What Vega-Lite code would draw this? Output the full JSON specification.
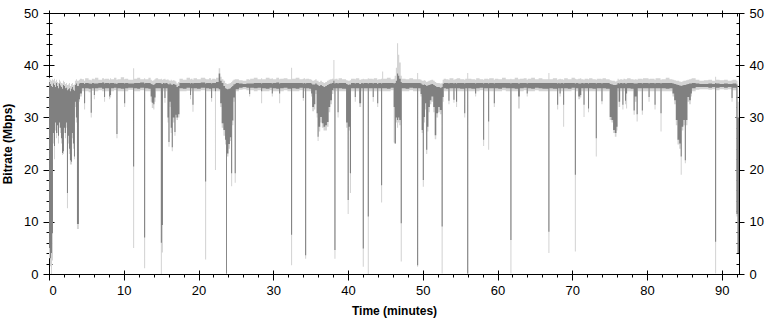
{
  "$schema": "https://vega.github.io/schema/vega-lite/v6.json",
  "width": 690,
  "height": 261,
  "autosize": "none",
  "padding": {"left": 49, "top": 13, "right": 31, "bottom": 46},
  "background": "white",
  "config": {
    "view": {"stroke": "#000000", "strokeWidth": 1},
    "axis": {"labelFont": "Liberation Sans", "labelFontSize": 13, "labelColor": "#000000", "tickColor": "#000000", "titleFont": "Liberation Sans", "titleFontSize": 12, "titleFontWeight": "bold", "titleColor": "#000000", "grid": false, "domain": false}
  },
  "data": {"values": [
    {"t":0.00,"dlo":5.0,"dhi":36.8,"llo":3.0,"lhi":37.6},
    {"t":0.13,"dlo":3.0,"dhi":36.4,"llo":1.5,"lhi":37.2},
    {"t":0.27,"dlo":4.0,"dhi":36.0,"llo":0.0,"lhi":37.0},
    {"t":0.40,"dlo":7.8,"dhi":35.8,"llo":2.6,"lhi":37.3},
    {"t":0.53,"dlo":27.0,"dhi":36.5,"llo":25.0,"lhi":37.1},
    {"t":0.67,"dlo":24.5,"dhi":36.2,"llo":22.0,"lhi":37.4},
    {"t":0.80,"dlo":29.0,"dhi":35.8,"llo":27.5,"lhi":36.9},
    {"t":0.94,"dlo":27.0,"dhi":36.6,"llo":26.0,"lhi":37.2},
    {"t":1.07,"dlo":28.5,"dhi":36.0,"llo":27.0,"lhi":36.8},
    {"t":1.20,"dlo":26.5,"dhi":35.6,"llo":25.0,"lhi":36.6},
    {"t":1.34,"dlo":29.0,"dhi":36.5,"llo":28.0,"lhi":37.2},
    {"t":1.47,"dlo":28.0,"dhi":36.1,"llo":27.0,"lhi":36.9},
    {"t":1.60,"dlo":26.0,"dhi":35.8,"llo":25.0,"lhi":36.6},
    {"t":1.74,"dlo":23.2,"dhi":35.5,"llo":22.8,"lhi":36.5},
    {"t":1.87,"dlo":23.5,"dhi":36.2,"llo":23.0,"lhi":37.0},
    {"t":2.00,"dlo":28.0,"dhi":36.0,"llo":27.0,"lhi":36.8},
    {"t":2.14,"dlo":27.0,"dhi":35.6,"llo":26.0,"lhi":36.4},
    {"t":2.27,"dlo":29.0,"dhi":35.7,"llo":28.0,"lhi":36.6},
    {"t":2.40,"dlo":15.5,"dhi":35.2,"llo":12.6,"lhi":36.2},
    {"t":2.54,"dlo":26.5,"dhi":35.4,"llo":25.0,"lhi":36.3},
    {"t":2.67,"dlo":24.0,"dhi":35.6,"llo":23.0,"lhi":36.6},
    {"t":2.80,"dlo":21.8,"dhi":35.0,"llo":21.0,"lhi":36.0},
    {"t":2.94,"dlo":21.5,"dhi":35.5,"llo":21.0,"lhi":36.4},
    {"t":3.07,"dlo":27.0,"dhi":35.8,"llo":26.0,"lhi":36.6},
    {"t":3.20,"dlo":25.0,"dhi":35.3,"llo":24.0,"lhi":36.2},
    {"t":3.34,"dlo":22.5,"dhi":35.1,"llo":22.0,"lhi":36.3},
    {"t":3.47,"dlo":33.0,"dhi":36.2,"llo":32.0,"lhi":37.0},
    {"t":3.60,"dlo":30.0,"dhi":36.5,"llo":29.0,"lhi":37.3},
    {"t":3.74,"dlo":9.6,"dhi":36.0,"llo":8.6,"lhi":37.0},
    {"t":4.00,"dlo":33.5,"dhi":36.5,"llo":33.0,"lhi":37.2},
    {"t":4.14,"dlo":34.6,"dhi":36.6,"llo":34.0,"lhi":37.4},
    {"t":4.40,"dlo":35.6,"dhi":36.6,"llo":35.0,"lhi":37.3},
    {"t":4.69,"dlo":32.7,"dhi":36.4,"llo":31.5,"lhi":37.0},
    {"t":4.83,"dlo":35.6,"dhi":36.6,"llo":35.0,"lhi":37.5},
    {"t":5.30,"dlo":35.5,"dhi":36.5,"llo":34.8,"lhi":37.2},
    {"t":5.58,"dlo":30.9,"dhi":36.4,"llo":30.0,"lhi":37.1},
    {"t":5.72,"dlo":35.6,"dhi":36.6,"llo":35.1,"lhi":37.4},
    {"t":6.00,"dlo":34.3,"dhi":36.5,"llo":33.5,"lhi":37.3},
    {"t":6.14,"dlo":35.6,"dhi":36.5,"llo":35.0,"lhi":37.6},
    {"t":6.60,"dlo":35.7,"dhi":36.6,"llo":35.2,"lhi":37.2},
    {"t":7.10,"dlo":35.5,"dhi":36.7,"llo":35.0,"lhi":37.5},
    {"t":7.37,"dlo":33.9,"dhi":36.5,"llo":33.0,"lhi":37.3},
    {"t":7.50,"dlo":35.6,"dhi":36.6,"llo":35.0,"lhi":37.4},
    {"t":8.04,"dlo":34.0,"dhi":36.5,"llo":33.5,"lhi":37.2},
    {"t":8.17,"dlo":34.3,"dhi":36.6,"llo":33.8,"lhi":37.5},
    {"t":8.30,"dlo":35.6,"dhi":36.6,"llo":35.0,"lhi":37.3},
    {"t":8.70,"dlo":35.7,"dhi":36.5,"llo":35.2,"lhi":37.6},
    {"t":9.02,"dlo":26.8,"dhi":36.4,"llo":26.0,"lhi":37.2},
    {"t":9.16,"dlo":35.6,"dhi":36.6,"llo":35.0,"lhi":37.3},
    {"t":9.60,"dlo":35.5,"dhi":36.6,"llo":35.0,"lhi":37.7},
    {"t":10.05,"dlo":32.7,"dhi":36.5,"llo":32.0,"lhi":37.3},
    {"t":10.19,"dlo":35.6,"dhi":36.6,"llo":35.0,"lhi":37.4},
    {"t":10.60,"dlo":35.7,"dhi":36.5,"llo":35.3,"lhi":37.2},
    {"t":11.25,"dlo":20.6,"dhi":36.5,"llo":5.0,"lhi":39.4},
    {"t":11.39,"dlo":35.6,"dhi":36.6,"llo":35.0,"lhi":37.4},
    {"t":11.80,"dlo":35.5,"dhi":36.6,"llo":35.0,"lhi":37.6},
    {"t":12.20,"dlo":35.7,"dhi":36.7,"llo":35.2,"lhi":37.3},
    {"t":12.72,"dlo":7.0,"dhi":36.5,"llo":1.1,"lhi":37.5},
    {"t":12.86,"dlo":35.6,"dhi":36.6,"llo":35.0,"lhi":37.3},
    {"t":13.30,"dlo":35.5,"dhi":36.6,"llo":35.0,"lhi":37.6},
    {"t":13.60,"dlo":34.0,"dhi":36.4,"llo":33.0,"lhi":37.2},
    {"t":13.75,"dlo":32.8,"dhi":36.3,"llo":31.8,"lhi":37.0},
    {"t":13.95,"dlo":32.5,"dhi":36.2,"llo":31.5,"lhi":37.1},
    {"t":14.10,"dlo":33.8,"dhi":36.4,"llo":33.0,"lhi":37.3},
    {"t":14.25,"dlo":35.6,"dhi":36.6,"llo":35.0,"lhi":37.5},
    {"t":14.60,"dlo":35.6,"dhi":36.6,"llo":35.0,"lhi":37.3},
    {"t":14.96,"dlo":6.0,"dhi":36.5,"llo":0.0,"lhi":37.4},
    {"t":15.10,"dlo":9.4,"dhi":36.4,"llo":4.1,"lhi":37.2},
    {"t":15.24,"dlo":35.6,"dhi":36.6,"llo":35.0,"lhi":37.3},
    {"t":15.44,"dlo":33.7,"dhi":36.5,"llo":32.8,"lhi":37.4},
    {"t":15.58,"dlo":35.6,"dhi":36.6,"llo":35.0,"lhi":37.2},
    {"t":15.85,"dlo":30.0,"dhi":36.4,"llo":29.0,"lhi":37.3},
    {"t":15.98,"dlo":25.3,"dhi":36.3,"llo":24.4,"lhi":37.1},
    {"t":16.12,"dlo":33.0,"dhi":36.5,"llo":32.0,"lhi":37.0},
    {"t":16.28,"dlo":28.0,"dhi":36.3,"llo":27.0,"lhi":37.2},
    {"t":16.42,"dlo":24.3,"dhi":36.2,"llo":23.5,"lhi":37.0},
    {"t":16.56,"dlo":30.0,"dhi":36.4,"llo":29.0,"lhi":37.1},
    {"t":16.78,"dlo":27.2,"dhi":36.3,"llo":26.5,"lhi":37.0},
    {"t":16.92,"dlo":30.5,"dhi":36.2,"llo":30.0,"lhi":36.9},
    {"t":17.05,"dlo":30.0,"dhi":35.8,"llo":29.5,"lhi":36.5},
    {"t":17.25,"dlo":30.6,"dhi":36.0,"llo":30.0,"lhi":36.8},
    {"t":17.45,"dlo":35.6,"dhi":36.6,"llo":35.0,"lhi":37.4},
    {"t":17.90,"dlo":35.5,"dhi":36.6,"llo":35.0,"lhi":37.2},
    {"t":18.40,"dlo":35.7,"dhi":36.6,"llo":35.1,"lhi":37.6},
    {"t":18.87,"dlo":34.3,"dhi":36.5,"llo":33.5,"lhi":37.3},
    {"t":19.00,"dlo":35.6,"dhi":36.6,"llo":35.0,"lhi":37.4},
    {"t":19.19,"dlo":32.4,"dhi":36.5,"llo":31.1,"lhi":37.2},
    {"t":19.33,"dlo":35.6,"dhi":36.6,"llo":35.0,"lhi":37.5},
    {"t":19.80,"dlo":35.5,"dhi":36.6,"llo":35.0,"lhi":37.3},
    {"t":20.30,"dlo":35.7,"dhi":36.7,"llo":35.2,"lhi":37.6},
    {"t":20.88,"dlo":17.7,"dhi":36.5,"llo":2.8,"lhi":37.4},
    {"t":21.02,"dlo":35.6,"dhi":36.6,"llo":35.0,"lhi":37.3},
    {"t":21.40,"dlo":35.5,"dhi":36.6,"llo":35.0,"lhi":37.5},
    {"t":21.68,"dlo":33.7,"dhi":36.5,"llo":33.0,"lhi":37.2},
    {"t":21.82,"dlo":35.6,"dhi":36.6,"llo":35.0,"lhi":37.4},
    {"t":22.20,"dlo":35.0,"dhi":36.6,"llo":19.9,"lhi":37.3},
    {"t":22.34,"dlo":35.6,"dhi":36.8,"llo":35.0,"lhi":37.6},
    {"t":22.70,"dlo":35.4,"dhi":38.4,"llo":35.0,"lhi":39.4},
    {"t":22.90,"dlo":32.7,"dhi":37.0,"llo":32.0,"lhi":37.8},
    {"t":23.10,"dlo":28.9,"dhi":36.6,"llo":28.0,"lhi":37.3},
    {"t":23.33,"dlo":27.6,"dhi":36.0,"llo":26.5,"lhi":37.0},
    {"t":23.55,"dlo":25.7,"dhi":35.6,"llo":24.8,"lhi":36.6},
    {"t":23.68,"dlo":0.1,"dhi":35.5,"llo":0.0,"lhi":36.5},
    {"t":23.80,"dlo":23.1,"dhi":35.4,"llo":22.5,"lhi":36.4},
    {"t":24.00,"dlo":24.9,"dhi":35.5,"llo":24.0,"lhi":36.5},
    {"t":24.20,"dlo":26.2,"dhi":35.6,"llo":25.5,"lhi":36.6},
    {"t":24.36,"dlo":19.3,"dhi":35.8,"llo":16.8,"lhi":36.8},
    {"t":24.50,"dlo":29.4,"dhi":36.0,"llo":28.5,"lhi":37.0},
    {"t":24.66,"dlo":33.8,"dhi":36.3,"llo":33.0,"lhi":37.2},
    {"t":24.84,"dlo":19.3,"dhi":36.4,"llo":17.5,"lhi":37.3},
    {"t":24.98,"dlo":35.4,"dhi":36.6,"llo":35.0,"lhi":37.3},
    {"t":25.40,"dlo":35.7,"dhi":36.5,"llo":35.3,"lhi":37.1},
    {"t":25.90,"dlo":35.8,"dhi":36.4,"llo":35.4,"lhi":37.0},
    {"t":26.40,"dlo":35.7,"dhi":36.5,"llo":35.2,"lhi":37.3},
    {"t":26.77,"dlo":34.5,"dhi":36.5,"llo":34.0,"lhi":37.2},
    {"t":26.91,"dlo":35.7,"dhi":36.5,"llo":35.2,"lhi":37.4},
    {"t":27.40,"dlo":35.6,"dhi":36.6,"llo":35.0,"lhi":37.6},
    {"t":27.90,"dlo":35.7,"dhi":36.6,"llo":35.2,"lhi":37.3},
    {"t":28.37,"dlo":35.0,"dhi":36.5,"llo":32.7,"lhi":37.5},
    {"t":28.51,"dlo":35.6,"dhi":36.6,"llo":35.0,"lhi":37.3},
    {"t":29.00,"dlo":35.5,"dhi":36.6,"llo":35.0,"lhi":37.6},
    {"t":29.50,"dlo":35.7,"dhi":36.6,"llo":35.2,"lhi":37.4},
    {"t":29.80,"dlo":34.6,"dhi":36.5,"llo":34.0,"lhi":37.5},
    {"t":29.94,"dlo":35.6,"dhi":36.6,"llo":35.0,"lhi":37.3},
    {"t":30.40,"dlo":35.5,"dhi":36.7,"llo":35.0,"lhi":37.6},
    {"t":30.78,"dlo":34.6,"dhi":36.5,"llo":32.7,"lhi":37.3},
    {"t":30.92,"dlo":35.6,"dhi":36.6,"llo":35.0,"lhi":37.4},
    {"t":31.40,"dlo":35.7,"dhi":36.6,"llo":35.2,"lhi":37.5},
    {"t":31.90,"dlo":35.5,"dhi":36.6,"llo":35.0,"lhi":37.3},
    {"t":32.38,"dlo":7.5,"dhi":36.6,"llo":1.7,"lhi":39.5},
    {"t":32.52,"dlo":35.6,"dhi":36.6,"llo":35.0,"lhi":37.4},
    {"t":33.00,"dlo":35.5,"dhi":36.6,"llo":35.0,"lhi":37.6},
    {"t":33.50,"dlo":35.7,"dhi":36.6,"llo":35.2,"lhi":37.3},
    {"t":33.95,"dlo":33.7,"dhi":36.5,"llo":33.2,"lhi":37.4},
    {"t":34.09,"dlo":35.6,"dhi":36.6,"llo":35.0,"lhi":37.5},
    {"t":34.26,"dlo":3.6,"dhi":36.5,"llo":2.9,"lhi":37.3},
    {"t":34.40,"dlo":35.6,"dhi":36.6,"llo":35.0,"lhi":37.4},
    {"t":34.80,"dlo":35.5,"dhi":36.6,"llo":35.0,"lhi":37.3},
    {"t":35.06,"dlo":34.6,"dhi":36.5,"llo":34.0,"lhi":37.2},
    {"t":35.20,"dlo":32.0,"dhi":36.3,"llo":31.2,"lhi":37.0},
    {"t":35.45,"dlo":32.5,"dhi":36.3,"llo":31.5,"lhi":37.1},
    {"t":35.62,"dlo":35.2,"dhi":36.5,"llo":34.5,"lhi":37.3},
    {"t":35.80,"dlo":30.8,"dhi":36.3,"llo":30.0,"lhi":37.0},
    {"t":35.93,"dlo":26.3,"dhi":36.2,"llo":25.5,"lhi":37.0},
    {"t":36.06,"dlo":28.2,"dhi":36.0,"llo":27.3,"lhi":36.8},
    {"t":36.28,"dlo":30.1,"dhi":36.2,"llo":29.0,"lhi":37.0},
    {"t":36.50,"dlo":28.9,"dhi":36.0,"llo":28.0,"lhi":36.8},
    {"t":36.72,"dlo":28.2,"dhi":35.8,"llo":27.5,"lhi":36.6},
    {"t":36.95,"dlo":28.5,"dhi":36.0,"llo":27.5,"lhi":36.8},
    {"t":37.18,"dlo":29.1,"dhi":36.2,"llo":28.2,"lhi":37.0},
    {"t":37.40,"dlo":32.0,"dhi":36.4,"llo":31.0,"lhi":37.2},
    {"t":37.62,"dlo":33.3,"dhi":36.5,"llo":32.5,"lhi":37.3},
    {"t":37.85,"dlo":35.2,"dhi":36.6,"llo":34.5,"lhi":37.4},
    {"t":38.04,"dlo":35.6,"dhi":37.0,"llo":35.0,"lhi":41.0},
    {"t":38.18,"dlo":4.6,"dhi":36.5,"llo":2.9,"lhi":37.3},
    {"t":38.32,"dlo":35.6,"dhi":36.6,"llo":35.0,"lhi":37.4},
    {"t":38.60,"dlo":31.0,"dhi":36.5,"llo":30.0,"lhi":37.2},
    {"t":38.74,"dlo":35.6,"dhi":36.6,"llo":35.0,"lhi":37.5},
    {"t":39.20,"dlo":35.5,"dhi":36.6,"llo":35.0,"lhi":37.3},
    {"t":39.74,"dlo":29.0,"dhi":36.4,"llo":28.0,"lhi":37.1},
    {"t":39.95,"dlo":14.2,"dhi":36.2,"llo":11.5,"lhi":37.0},
    {"t":40.09,"dlo":28.2,"dhi":36.3,"llo":27.5,"lhi":37.0},
    {"t":40.25,"dlo":19.3,"dhi":36.3,"llo":15.5,"lhi":37.1},
    {"t":40.40,"dlo":35.6,"dhi":36.6,"llo":35.0,"lhi":37.4},
    {"t":40.90,"dlo":33.9,"dhi":36.5,"llo":33.0,"lhi":37.3},
    {"t":41.04,"dlo":35.6,"dhi":36.6,"llo":35.0,"lhi":37.5},
    {"t":41.50,"dlo":32.7,"dhi":36.4,"llo":32.0,"lhi":37.2},
    {"t":41.75,"dlo":35.6,"dhi":36.6,"llo":35.0,"lhi":37.3},
    {"t":41.97,"dlo":4.9,"dhi":36.5,"llo":1.4,"lhi":37.4},
    {"t":42.11,"dlo":35.6,"dhi":36.6,"llo":35.0,"lhi":37.3},
    {"t":42.64,"dlo":11.0,"dhi":36.5,"llo":0.0,"lhi":37.5},
    {"t":42.78,"dlo":35.6,"dhi":36.6,"llo":35.0,"lhi":37.4},
    {"t":43.30,"dlo":33.9,"dhi":36.5,"llo":33.0,"lhi":37.3},
    {"t":43.44,"dlo":35.6,"dhi":36.6,"llo":35.0,"lhi":37.5},
    {"t":43.90,"dlo":32.7,"dhi":36.4,"llo":32.0,"lhi":37.2},
    {"t":44.04,"dlo":35.6,"dhi":36.6,"llo":35.0,"lhi":37.3},
    {"t":44.42,"dlo":17.0,"dhi":36.5,"llo":13.7,"lhi":37.4},
    {"t":44.56,"dlo":35.6,"dhi":36.6,"llo":35.0,"lhi":38.8},
    {"t":44.70,"dlo":35.6,"dhi":36.6,"llo":35.0,"lhi":37.4},
    {"t":45.20,"dlo":35.5,"dhi":36.6,"llo":35.0,"lhi":37.6},
    {"t":45.70,"dlo":35.7,"dhi":36.6,"llo":35.2,"lhi":37.3},
    {"t":46.10,"dlo":32.0,"dhi":36.5,"llo":25.2,"lhi":37.4},
    {"t":46.24,"dlo":25.0,"dhi":36.6,"llo":25.0,"lhi":38.0},
    {"t":46.40,"dlo":30.0,"dhi":37.0,"llo":29.0,"lhi":39.5},
    {"t":46.55,"dlo":29.5,"dhi":38.4,"llo":28.0,"lhi":44.2},
    {"t":46.70,"dlo":30.0,"dhi":38.0,"llo":29.0,"lhi":42.0},
    {"t":46.85,"dlo":29.5,"dhi":37.4,"llo":28.5,"lhi":40.5},
    {"t":47.05,"dlo":9.7,"dhi":36.8,"llo":2.4,"lhi":38.0},
    {"t":47.19,"dlo":35.6,"dhi":36.6,"llo":35.0,"lhi":37.4},
    {"t":47.70,"dlo":35.5,"dhi":36.6,"llo":35.0,"lhi":37.3},
    {"t":48.20,"dlo":35.7,"dhi":36.6,"llo":35.2,"lhi":37.5},
    {"t":48.70,"dlo":35.6,"dhi":36.6,"llo":35.0,"lhi":37.3},
    {"t":49.24,"dlo":1.7,"dhi":36.6,"llo":1.4,"lhi":38.5},
    {"t":49.38,"dlo":35.6,"dhi":36.6,"llo":35.0,"lhi":37.3},
    {"t":49.70,"dlo":34.5,"dhi":36.5,"llo":34.0,"lhi":37.2},
    {"t":49.85,"dlo":27.6,"dhi":36.3,"llo":27.0,"lhi":37.0},
    {"t":50.00,"dlo":18.0,"dhi":36.2,"llo":16.7,"lhi":37.0},
    {"t":50.14,"dlo":30.1,"dhi":36.3,"llo":29.0,"lhi":37.1},
    {"t":50.30,"dlo":32.7,"dhi":36.2,"llo":31.5,"lhi":37.0},
    {"t":50.45,"dlo":23.8,"dhi":36.0,"llo":23.0,"lhi":36.8},
    {"t":50.60,"dlo":28.2,"dhi":36.1,"llo":27.3,"lhi":36.9},
    {"t":50.75,"dlo":32.0,"dhi":36.2,"llo":31.0,"lhi":37.0},
    {"t":50.95,"dlo":33.3,"dhi":36.3,"llo":32.5,"lhi":37.1},
    {"t":51.15,"dlo":34.0,"dhi":36.4,"llo":33.0,"lhi":37.2},
    {"t":51.40,"dlo":32.0,"dhi":36.2,"llo":31.0,"lhi":37.0},
    {"t":51.60,"dlo":26.6,"dhi":36.0,"llo":25.8,"lhi":36.8},
    {"t":51.80,"dlo":30.8,"dhi":35.8,"llo":30.0,"lhi":36.6},
    {"t":52.05,"dlo":32.0,"dhi":35.8,"llo":31.0,"lhi":36.6},
    {"t":52.28,"dlo":31.4,"dhi":35.7,"llo":30.6,"lhi":36.5},
    {"t":52.52,"dlo":9.1,"dhi":35.8,"llo":0.1,"lhi":36.6},
    {"t":52.66,"dlo":33.9,"dhi":36.4,"llo":33.0,"lhi":37.2},
    {"t":52.80,"dlo":35.6,"dhi":36.6,"llo":35.0,"lhi":37.4},
    {"t":53.10,"dlo":35.5,"dhi":36.6,"llo":35.0,"lhi":37.3},
    {"t":53.43,"dlo":33.2,"dhi":36.5,"llo":32.5,"lhi":37.2},
    {"t":53.57,"dlo":35.6,"dhi":36.6,"llo":35.0,"lhi":37.5},
    {"t":54.10,"dlo":33.4,"dhi":36.5,"llo":32.8,"lhi":37.2},
    {"t":54.24,"dlo":35.6,"dhi":36.6,"llo":35.0,"lhi":37.3},
    {"t":54.45,"dlo":33.0,"dhi":36.5,"llo":32.0,"lhi":37.4},
    {"t":54.59,"dlo":35.6,"dhi":36.6,"llo":35.0,"lhi":37.5},
    {"t":55.00,"dlo":35.5,"dhi":36.6,"llo":35.0,"lhi":37.3},
    {"t":55.54,"dlo":30.8,"dhi":36.5,"llo":30.0,"lhi":37.2},
    {"t":55.68,"dlo":35.6,"dhi":36.6,"llo":35.0,"lhi":37.4},
    {"t":55.94,"dlo":0.1,"dhi":36.6,"llo":0.0,"lhi":38.5},
    {"t":56.08,"dlo":35.6,"dhi":36.6,"llo":35.0,"lhi":37.4},
    {"t":56.50,"dlo":35.5,"dhi":36.6,"llo":35.0,"lhi":37.3},
    {"t":57.00,"dlo":34.6,"dhi":36.5,"llo":34.0,"lhi":37.2},
    {"t":57.14,"dlo":35.6,"dhi":36.6,"llo":35.0,"lhi":37.5},
    {"t":57.60,"dlo":35.7,"dhi":36.6,"llo":35.2,"lhi":37.3},
    {"t":58.07,"dlo":25.7,"dhi":36.5,"llo":24.5,"lhi":37.2},
    {"t":58.21,"dlo":35.6,"dhi":36.6,"llo":35.0,"lhi":37.4},
    {"t":58.74,"dlo":29.2,"dhi":36.5,"llo":23.8,"lhi":37.3},
    {"t":58.88,"dlo":35.6,"dhi":36.6,"llo":35.0,"lhi":37.5},
    {"t":59.50,"dlo":32.7,"dhi":36.5,"llo":32.0,"lhi":37.2},
    {"t":59.64,"dlo":35.6,"dhi":36.6,"llo":35.0,"lhi":37.4},
    {"t":60.10,"dlo":35.5,"dhi":36.6,"llo":35.0,"lhi":37.3},
    {"t":60.60,"dlo":35.7,"dhi":36.6,"llo":35.2,"lhi":37.6},
    {"t":61.10,"dlo":35.6,"dhi":36.6,"llo":35.0,"lhi":37.3},
    {"t":61.72,"dlo":6.5,"dhi":36.5,"llo":0.1,"lhi":37.4},
    {"t":61.86,"dlo":35.6,"dhi":36.6,"llo":35.0,"lhi":37.3},
    {"t":62.30,"dlo":35.5,"dhi":36.6,"llo":35.0,"lhi":37.6},
    {"t":62.75,"dlo":34.0,"dhi":36.5,"llo":31.7,"lhi":37.3},
    {"t":62.98,"dlo":35.6,"dhi":36.6,"llo":35.0,"lhi":37.4},
    {"t":63.50,"dlo":35.7,"dhi":36.6,"llo":35.2,"lhi":37.5},
    {"t":63.90,"dlo":34.6,"dhi":36.5,"llo":34.0,"lhi":37.2},
    {"t":64.04,"dlo":35.6,"dhi":36.6,"llo":35.0,"lhi":37.4},
    {"t":64.50,"dlo":35.5,"dhi":36.6,"llo":35.0,"lhi":37.6},
    {"t":65.00,"dlo":35.7,"dhi":36.6,"llo":35.2,"lhi":37.3},
    {"t":65.50,"dlo":35.6,"dhi":36.6,"llo":35.0,"lhi":37.5},
    {"t":66.00,"dlo":35.5,"dhi":36.6,"llo":35.0,"lhi":37.3},
    {"t":66.80,"dlo":8.1,"dhi":36.6,"llo":4.0,"lhi":38.5},
    {"t":66.94,"dlo":35.6,"dhi":36.6,"llo":35.0,"lhi":37.3},
    {"t":67.40,"dlo":35.5,"dhi":36.6,"llo":35.0,"lhi":37.5},
    {"t":67.97,"dlo":32.4,"dhi":36.5,"llo":31.5,"lhi":37.2},
    {"t":68.11,"dlo":35.6,"dhi":36.6,"llo":35.0,"lhi":37.3},
    {"t":68.30,"dlo":34.6,"dhi":36.5,"llo":34.0,"lhi":37.4},
    {"t":68.44,"dlo":35.6,"dhi":36.6,"llo":35.0,"lhi":37.3},
    {"t":68.77,"dlo":32.4,"dhi":36.5,"llo":28.2,"lhi":37.2},
    {"t":68.91,"dlo":35.6,"dhi":36.6,"llo":35.0,"lhi":37.5},
    {"t":69.40,"dlo":35.5,"dhi":36.6,"llo":35.0,"lhi":37.3},
    {"t":69.90,"dlo":35.7,"dhi":36.6,"llo":35.2,"lhi":37.6},
    {"t":70.34,"dlo":19.0,"dhi":36.5,"llo":4.3,"lhi":37.4},
    {"t":70.48,"dlo":35.6,"dhi":36.6,"llo":35.0,"lhi":37.3},
    {"t":70.80,"dlo":34.0,"dhi":36.5,"llo":33.5,"lhi":37.4},
    {"t":71.05,"dlo":34.3,"dhi":36.5,"llo":33.8,"lhi":37.5},
    {"t":71.20,"dlo":35.6,"dhi":36.6,"llo":35.0,"lhi":37.3},
    {"t":71.50,"dlo":32.4,"dhi":36.5,"llo":30.1,"lhi":37.2},
    {"t":71.64,"dlo":35.6,"dhi":36.6,"llo":35.0,"lhi":37.4},
    {"t":72.10,"dlo":31.7,"dhi":36.5,"llo":31.0,"lhi":37.3},
    {"t":72.24,"dlo":35.6,"dhi":36.6,"llo":35.0,"lhi":37.5},
    {"t":72.70,"dlo":35.5,"dhi":36.6,"llo":35.0,"lhi":37.3},
    {"t":73.14,"dlo":26.0,"dhi":36.5,"llo":22.5,"lhi":37.2},
    {"t":73.28,"dlo":35.6,"dhi":36.6,"llo":35.0,"lhi":37.4},
    {"t":73.90,"dlo":33.1,"dhi":36.5,"llo":32.5,"lhi":37.3},
    {"t":74.04,"dlo":35.6,"dhi":36.6,"llo":35.0,"lhi":37.5},
    {"t":74.50,"dlo":35.5,"dhi":36.6,"llo":35.0,"lhi":37.3},
    {"t":75.00,"dlo":30.1,"dhi":36.4,"llo":29.5,"lhi":37.1},
    {"t":75.24,"dlo":29.5,"dhi":36.3,"llo":29.0,"lhi":37.0},
    {"t":75.46,"dlo":27.6,"dhi":36.2,"llo":27.0,"lhi":37.0},
    {"t":75.69,"dlo":27.0,"dhi":36.2,"llo":26.3,"lhi":36.9},
    {"t":75.91,"dlo":28.2,"dhi":36.3,"llo":27.5,"lhi":37.0},
    {"t":76.05,"dlo":35.6,"dhi":36.6,"llo":35.0,"lhi":37.4},
    {"t":76.20,"dlo":33.0,"dhi":36.5,"llo":32.0,"lhi":37.2},
    {"t":76.40,"dlo":35.6,"dhi":36.6,"llo":35.0,"lhi":37.3},
    {"t":76.70,"dlo":32.4,"dhi":36.5,"llo":31.5,"lhi":37.2},
    {"t":76.84,"dlo":35.6,"dhi":36.6,"llo":35.0,"lhi":37.4},
    {"t":77.05,"dlo":33.2,"dhi":36.5,"llo":32.5,"lhi":37.3},
    {"t":77.19,"dlo":34.6,"dhi":36.5,"llo":31.7,"lhi":37.3},
    {"t":77.33,"dlo":35.6,"dhi":36.6,"llo":35.0,"lhi":37.5},
    {"t":77.80,"dlo":35.5,"dhi":36.6,"llo":35.0,"lhi":37.3},
    {"t":78.20,"dlo":31.3,"dhi":36.5,"llo":30.5,"lhi":37.2},
    {"t":78.35,"dlo":34.0,"dhi":36.5,"llo":33.0,"lhi":37.3},
    {"t":78.60,"dlo":30.6,"dhi":36.5,"llo":29.2,"lhi":37.2},
    {"t":78.75,"dlo":35.6,"dhi":36.6,"llo":35.0,"lhi":37.4},
    {"t":79.30,"dlo":31.3,"dhi":36.5,"llo":30.5,"lhi":37.3},
    {"t":79.44,"dlo":35.6,"dhi":36.6,"llo":35.0,"lhi":37.5},
    {"t":80.20,"dlo":33.9,"dhi":36.5,"llo":33.0,"lhi":37.3},
    {"t":80.34,"dlo":35.6,"dhi":36.6,"llo":35.0,"lhi":37.4},
    {"t":81.00,"dlo":32.4,"dhi":36.5,"llo":31.5,"lhi":37.2},
    {"t":81.14,"dlo":35.6,"dhi":36.6,"llo":35.0,"lhi":37.5},
    {"t":81.80,"dlo":30.8,"dhi":36.5,"llo":27.3,"lhi":37.2},
    {"t":81.94,"dlo":35.6,"dhi":36.6,"llo":35.0,"lhi":37.3},
    {"t":82.50,"dlo":35.5,"dhi":36.6,"llo":35.0,"lhi":37.6},
    {"t":83.00,"dlo":35.6,"dhi":36.6,"llo":35.0,"lhi":37.3},
    {"t":83.40,"dlo":34.6,"dhi":36.5,"llo":34.0,"lhi":37.2},
    {"t":83.63,"dlo":33.3,"dhi":36.4,"llo":32.5,"lhi":37.1},
    {"t":83.85,"dlo":29.5,"dhi":36.3,"llo":28.5,"lhi":37.0},
    {"t":84.07,"dlo":25.7,"dhi":36.2,"llo":24.8,"lhi":37.0},
    {"t":84.30,"dlo":25.0,"dhi":36.1,"llo":24.0,"lhi":36.9},
    {"t":84.50,"dlo":22.5,"dhi":36.0,"llo":19.0,"lhi":36.8},
    {"t":84.64,"dlo":28.2,"dhi":36.1,"llo":27.5,"lhi":36.9},
    {"t":84.85,"dlo":29.5,"dhi":36.2,"llo":28.5,"lhi":37.0},
    {"t":85.05,"dlo":21.8,"dhi":36.2,"llo":21.2,"lhi":37.0},
    {"t":85.19,"dlo":29.5,"dhi":36.3,"llo":28.5,"lhi":37.1},
    {"t":85.40,"dlo":33.9,"dhi":36.4,"llo":33.0,"lhi":37.2},
    {"t":85.63,"dlo":33.3,"dhi":36.5,"llo":32.5,"lhi":37.3},
    {"t":85.85,"dlo":34.6,"dhi":36.5,"llo":34.0,"lhi":37.4},
    {"t":86.00,"dlo":35.6,"dhi":36.6,"llo":35.0,"lhi":37.5},
    {"t":86.50,"dlo":35.8,"dhi":36.5,"llo":35.3,"lhi":37.2},
    {"t":87.00,"dlo":35.8,"dhi":36.4,"llo":35.4,"lhi":37.0},
    {"t":87.60,"dlo":35.8,"dhi":36.4,"llo":35.4,"lhi":37.1},
    {"t":88.20,"dlo":35.7,"dhi":36.5,"llo":35.3,"lhi":37.2},
    {"t":88.70,"dlo":35.8,"dhi":36.4,"llo":35.4,"lhi":37.0},
    {"t":89.10,"dlo":6.2,"dhi":36.6,"llo":0.1,"lhi":37.8},
    {"t":89.24,"dlo":35.7,"dhi":36.5,"llo":35.2,"lhi":37.2},
    {"t":89.70,"dlo":35.8,"dhi":36.4,"llo":35.4,"lhi":37.1},
    {"t":90.30,"dlo":35.7,"dhi":36.5,"llo":35.3,"lhi":37.2},
    {"t":90.80,"dlo":35.8,"dhi":36.4,"llo":35.4,"lhi":37.0},
    {"t":91.30,"dlo":33.7,"dhi":36.4,"llo":33.0,"lhi":37.1},
    {"t":91.44,"dlo":35.7,"dhi":36.5,"llo":35.2,"lhi":37.2},
    {"t":91.95,"dlo":11.5,"dhi":36.3,"llo":11.0,"lhi":37.0},
    {"t":92.10,"dlo":4.0,"dhi":30.0,"llo":4.0,"lhi":33.0},
    {"t":92.30,"dlo":4.0,"dhi":12.0,"llo":4.0,"lhi":20.0}
  ]},
  "resolve": {"axis": {"x": "independent", "y": "independent"}},
  "layer": [
    {
      "mark": {"type": "area", "interpolate": "step-after", "color": "#d4d4d4"},
      "encoding": {
        "x": {"field": "t", "type": "quantitative", "scale": {"domain": [0, 92.3], "nice": false, "zero": false},
              "axis": {"orient": "bottom", "values": [0,10,20,30,40,50,60,70,80,90], "tickSize": 10, "offset": -4, "labelPadding": 4, "labelFontSize": 13, "title": "Time (minutes)", "titlePadding": 8}},
        "y": {"field": "llo", "type": "quantitative", "scale": {"domain": [0, 50], "nice": false},
              "axis": {"orient": "left", "values": [0,10,20,30,40,50], "tickSize": 11, "offset": -5, "labelPadding": 5, "title": "Bitrate (Mbps)", "titlePadding": 9}},
        "y2": {"field": "lhi"}
      }
    },
    {
      "mark": {"type": "area", "interpolate": "step-after", "color": "#808080"},
      "encoding": {
        "x": {"field": "t", "type": "quantitative", "scale": {"domain": [0, 92.3], "nice": false, "zero": false},
              "axis": {"orient": "top", "values": [0,10,20,30,40,50,60,70,80,90], "tickSize": 7, "offset": -4, "labels": false, "title": null}},
        "y": {"field": "dlo", "type": "quantitative", "scale": {"domain": [0, 50], "nice": false},
              "axis": {"orient": "right", "values": [0,10,20,30,40,50], "tickSize": 9, "offset": -4, "labelPadding": 5, "title": null}},
        "y2": {"field": "dhi"}
      }
    },
    {
      "mark": {"type": "point", "opacity": 0},
      "encoding": {
        "x": {"field": "t", "type": "quantitative", "scale": {"domain": [0, 92.3], "nice": false, "zero": false},
              "axis": {"orient": "bottom", "values": [2,4,6,8,12,14,16,18,22,24,26,28,32,34,36,38,42,44,46,48,52,54,56,58,62,64,66,68,72,74,76,78,82,84,86,88,92], "tickSize": 3, "labels": false, "title": null}},
        "y": {"field": "dlo", "type": "quantitative", "scale": {"domain": [0, 50], "nice": false},
              "axis": {"orient": "left", "values": [2,4,6,8,12,14,16,18,22,24,26,28,32,34,36,38,42,44,46,48], "tickSize": 6, "offset": -3, "labels": false, "title": null}}
      }
    },
    {
      "mark": {"type": "point", "opacity": 0},
      "encoding": {
        "x": {"field": "t", "type": "quantitative", "scale": {"domain": [0, 92.3], "nice": false, "zero": false},
              "axis": {"orient": "top", "values": [2,4,6,8,12,14,16,18,22,24,26,28,32,34,36,38,42,44,46,48,52,54,56,58,62,64,66,68,72,74,76,78,82,84,86,88,92], "tickSize": 3, "offset": -3, "labels": false, "title": null}},
        "y": {"field": "dlo", "type": "quantitative", "scale": {"domain": [0, 50], "nice": false},
              "axis": {"orient": "right", "values": [2,4,6,8,12,14,16,18,22,24,26,28,32,34,36,38,42,44,46,48], "tickSize": 3, "offset": -3, "labels": false, "title": null}}
      }
    }
  ]
}
